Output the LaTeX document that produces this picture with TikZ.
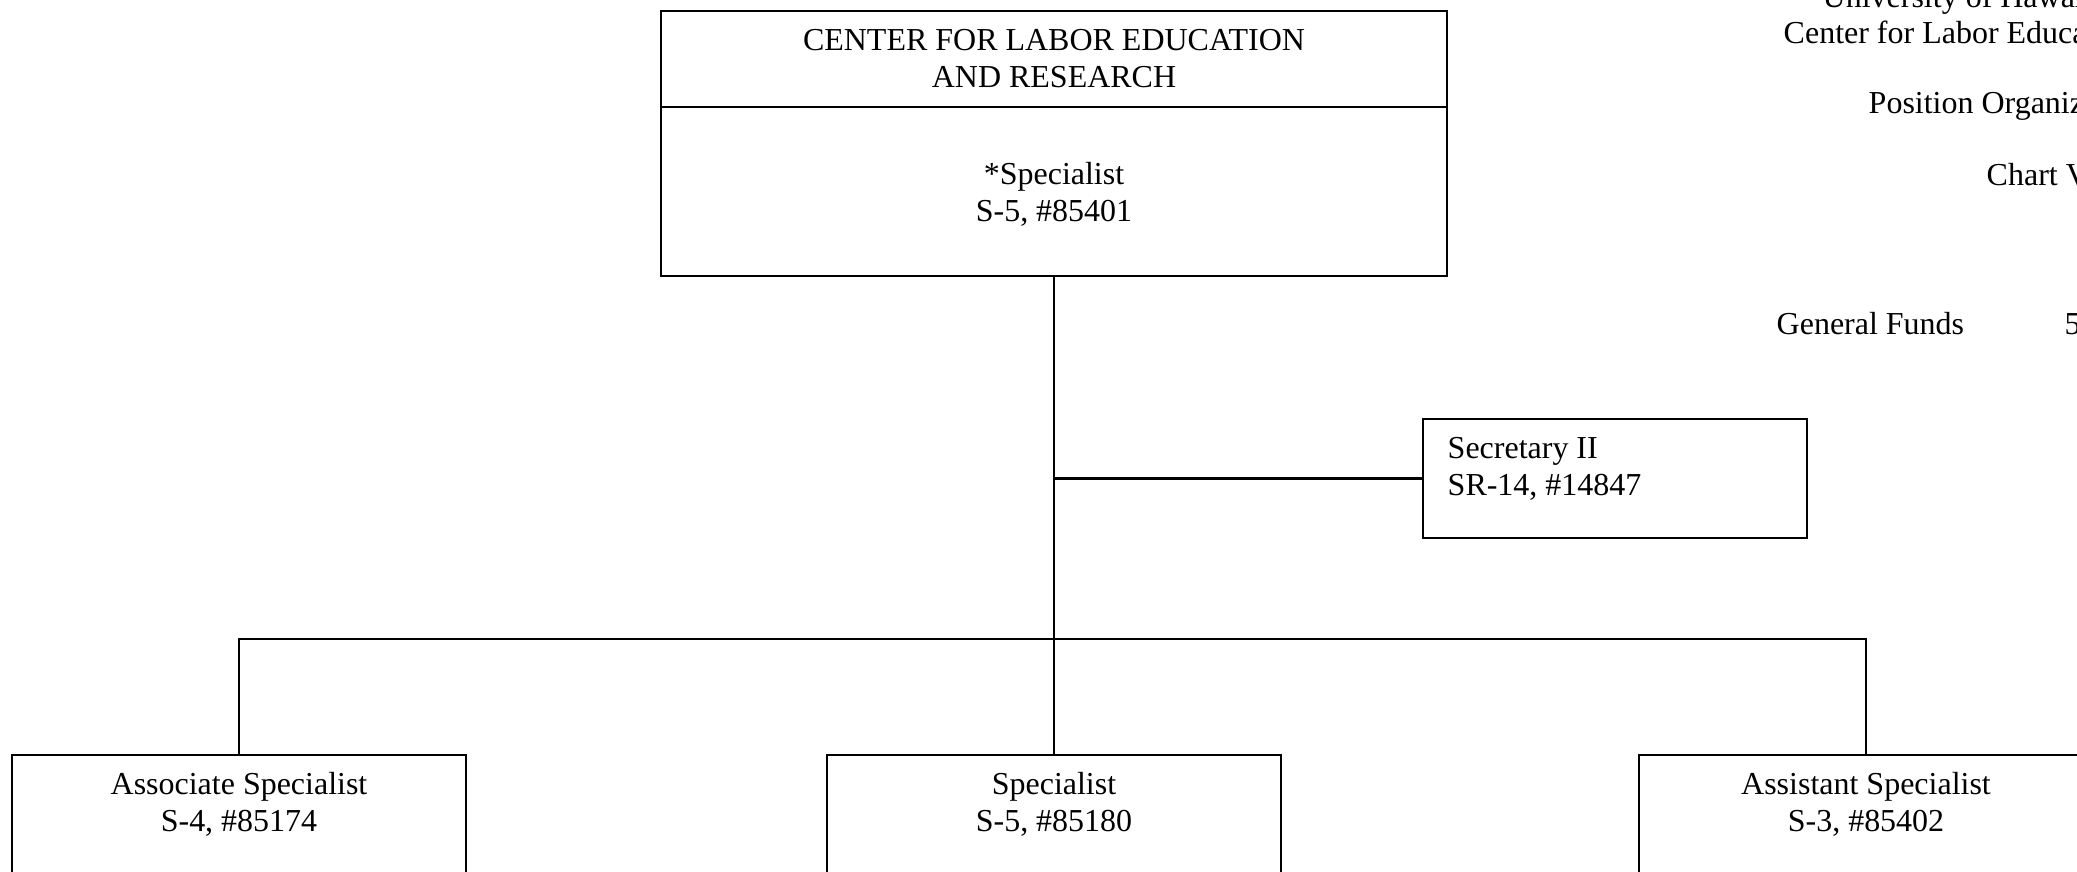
\documentclass[tikz,border=0pt]{standalone}
\usepackage{fontspec}
\setmainfont{Liberation Serif}
\usetikzlibrary{positioning}

\begin{document}
\begin{tikzpicture}[
  x=0.1mm, y=-0.1mm,
  font        = \fontsize{9.1}{10.5}\selectfont,
  % plain boxes, text is set apart where it does not sit in the middle
  post/.style = {draw, line width=0.7pt, inner sep=0pt, outer sep=0pt, align=center},
  txt/.style  = {inner sep=0pt, align=center},
  hdr/.style  = {inner sep=0pt, anchor=base west},
  link/.style = {line width=0.6pt},
]
\useasboundingbox (0,0) rectangle (2077,872);

% ── Head of the unit ──────────────────────────────────────────────────────────
\node[post, minimum width=78.6mm, minimum height=9.6mm] (unit) at (1054,59)
      {CENTER FOR LABOR EDUCATION\\AND RESEARCH};
\node[post, minimum width=78.6mm, minimum height=16.9mm, below=0pt of unit] (head) {};
\node[txt, below=5.5mm of head.north] (head-t) {*Specialist\\S-5, \#85401};

% ── Staff position ────────────────────────────────────────────────────────────
\node[post, minimum width=38.4mm, minimum height=11.9mm] (sec) at (1615,478.5) {};
\node[txt, align=left, below right=1.8mm and 2.4mm of sec.north west] (sec-t)
      {Secretary II\\SR-14, \#14847};

% ── Line positions (boxes run off the sheet) ─────────────────────────────────
\node[post, minimum width=45.4mm, minimum height=17.5mm, anchor=north] (assoc) at (239,755) {};
\node[post, minimum width=45.4mm, minimum height=17.5mm, anchor=north] (spec)  at (1054,755) {};
\node[post, minimum width=45.4mm, minimum height=17.5mm, anchor=north] (asst)  at (1866,755) {};

\node[txt, below=1.7mm of assoc.north] (assoc-t) {Associate Specialist\\S-4, \#85174};
\node[txt, below=1.7mm of spec.north]  (spec-t)  {Specialist\\S-5, \#85180};
\node[txt, below=1.7mm of asst.north]  (asst-t)  {Assistant Specialist\\S-3, \#85402};

% ── Connectors ────────────────────────────────────────────────────────────────
\coordinate (bar) at (1054,639);
\draw[link] (head.south) -- (spec.north);
\draw[link] (sec.west) -- (sec.west -| head.south);
\draw[link] (assoc.north) |- (bar) -| (asst.north);

% ── Sheet heading ─────────────────────────────────────────────────────────────
\node[hdr] (uh)    at (1822,8)   {University of Hawaii};
\node[hdr] (clear) at (1783,44)  {Center for Labor Education and Research};
\node[hdr] (poc)   at (1868,114) {Position Organization Chart};
\node[hdr] (chart) at (1986,186) {Chart V};
\node[hdr] (gf)    at (1776,335) {General Funds};
\node[hdr] (fte)   at (2064,335) {5};

\end{tikzpicture}
\end{document}
